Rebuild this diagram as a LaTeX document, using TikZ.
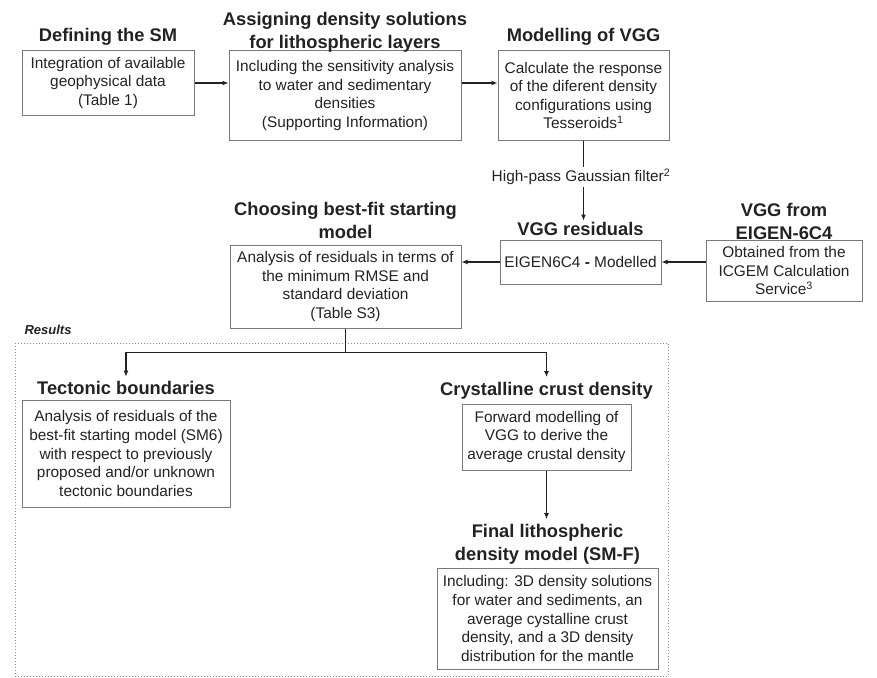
\documentclass[tikz,border=0pt]{standalone}
\usepackage{fontspec}
\setmainfont{Liberation Sans}
\usepackage{xcolor}
\usepackage{tikz}
\usetikzlibrary{positioning,arrows.meta,calc}
\definecolor{fcink}{HTML}{222222}
\definecolor{fcedge}{HTML}{7A7A7A}
\definecolor{fcdots}{HTML}{8C8C8C}

\begin{document}
\begin{tikzpicture}[
  x=1pt, y=-1pt,
  font=\fontsize{15.4}{18.6}\selectfont, text=fcink,
  box/.style={draw=fcedge, line width=1pt, align=center, inner sep=2pt},
  head/.style={font=\fontsize{18.3}{23}\selectfont\bfseries, align=center, inner sep=1.5pt},
  flow/.style={-{Latex[length=6pt,width=5pt]}, draw=fcink, line width=1.5pt},
  link/.style={draw=fcink, line width=1.3pt},
  ]
  \useasboundingbox (0,0) rectangle (877,677);

  % Top row: starting model, densities, forward modelling
  \node[box, minimum width=172pt, minimum height=64pt] (sm) at (108,83)
    {Integration of available\\geophysical data\\(Table 1)};
  \node[box, minimum width=232pt, minimum height=89pt] (dens) at (345,95.5)
    {Including the sensitivity analysis\\to water and sedimentary\\densities\\(Supporting Information)};
  \node[box, minimum width=171pt, minimum height=89pt] (vggm) at (583.5,95.5)
    {Calculate the response\\of the diferent density\\configurations using\\Tesseroids\textsuperscript{1}};
  \node[head, above=3pt of sm] (smhead) {Defining the SM};
  \node[head, above=-3pt of dens] (denshead) {Assigning density solutions\\for lithospheric layers};
  \node[head, above=3pt of vggm] (vggmhead) {Modelling of VGG};
  \draw[flow] (sm) -- (dens.west |- sm);
  \draw[flow] (dens.east |- sm) -- (vggm.west |- sm);

  % Middle row: residuals
  \node[box, minimum width=161pt, minimum height=44pt] (res) at (580.5,262)
    {EIGEN6C4 \textbf{-} Modelled};
  \node[box, minimum width=156pt, minimum height=61pt] (eig) at (784,270.5)
    {Obtained from the\\ICGEM Calculation\\Service\textsuperscript{3}};
  \node[box, minimum width=231pt, minimum height=83pt] (best) at (345.5,286.5)
    {Analysis of residuals in terms of\\the minimum RMSE and\\standard deviation\\(Table S3)};
  \node[head, above=2pt of res] (reshead) {VGG residuals};
  \node[head, above=-2pt of eig] (eighead) {VGG from\\EIGEN-6C4};
  \node[head, above=4pt of best] (besthead) {Choosing best-fit starting\\model};
  \node[inner sep=2pt] (filt) at (581,177) {High-pass Gaussian filter\textsuperscript{2}};
  \draw[link] (vggm) -- (vggm |- filt.north);
  \draw[flow] (vggm |- filt.south) -- (vggm |- reshead.north);
  \draw[flow] (eig.west |- res) -- (res);
  \draw[flow] (res) -- (best.east |- res);

  % Results frame
  \draw[fcdots, dotted, line width=1pt] (15,343) rectangle (668,676);
  \node[font=\fontsize{13}{15}\selectfont\bfseries\itshape, anchor=west] (reslabel) at (21,330) {Results};

  \node[box, minimum width=208pt, minimum height=107pt] (tect) at (126,453.5)
    {Analysis of residuals of the\\best-fit starting model (SM6)\\with respect to previously\\proposed and/or unknown\\tectonic boundaries};
  \node[box, minimum width=169pt, minimum height=66pt] (crust) at (546.5,437)
    {Forward modelling of\\VGG to derive the\\average crustal density};
  \node[box, minimum width=221pt, minimum height=101pt] (final) at (547.5,618.5)
    {Including: 3D density solutions\\for water and sediments, an\\average cystalline crust\\density, and a 3D density\\distribution for the mantle};
  \node[head, above=3pt of tect] (tecthead) {Tectonic boundaries};
  \node[head, above=3pt of crust] (crusthead) {Crystalline crust density};
  \node[head, above=2pt of final] (finalhead) {Final lithospheric\\density model (SM-F)};

  \coordinate (split) at ($(best.south)+(0,24)$);
  \draw[link] (best) -- (split);
  \draw[flow] (split) -| ([yshift=3pt]tecthead.north);
  \draw[flow] (split) -| ([yshift=3pt]crusthead.north);
  \draw[flow] (crust) -- ([yshift=3pt]crust |- finalhead.north);
\end{tikzpicture}
\end{document}
